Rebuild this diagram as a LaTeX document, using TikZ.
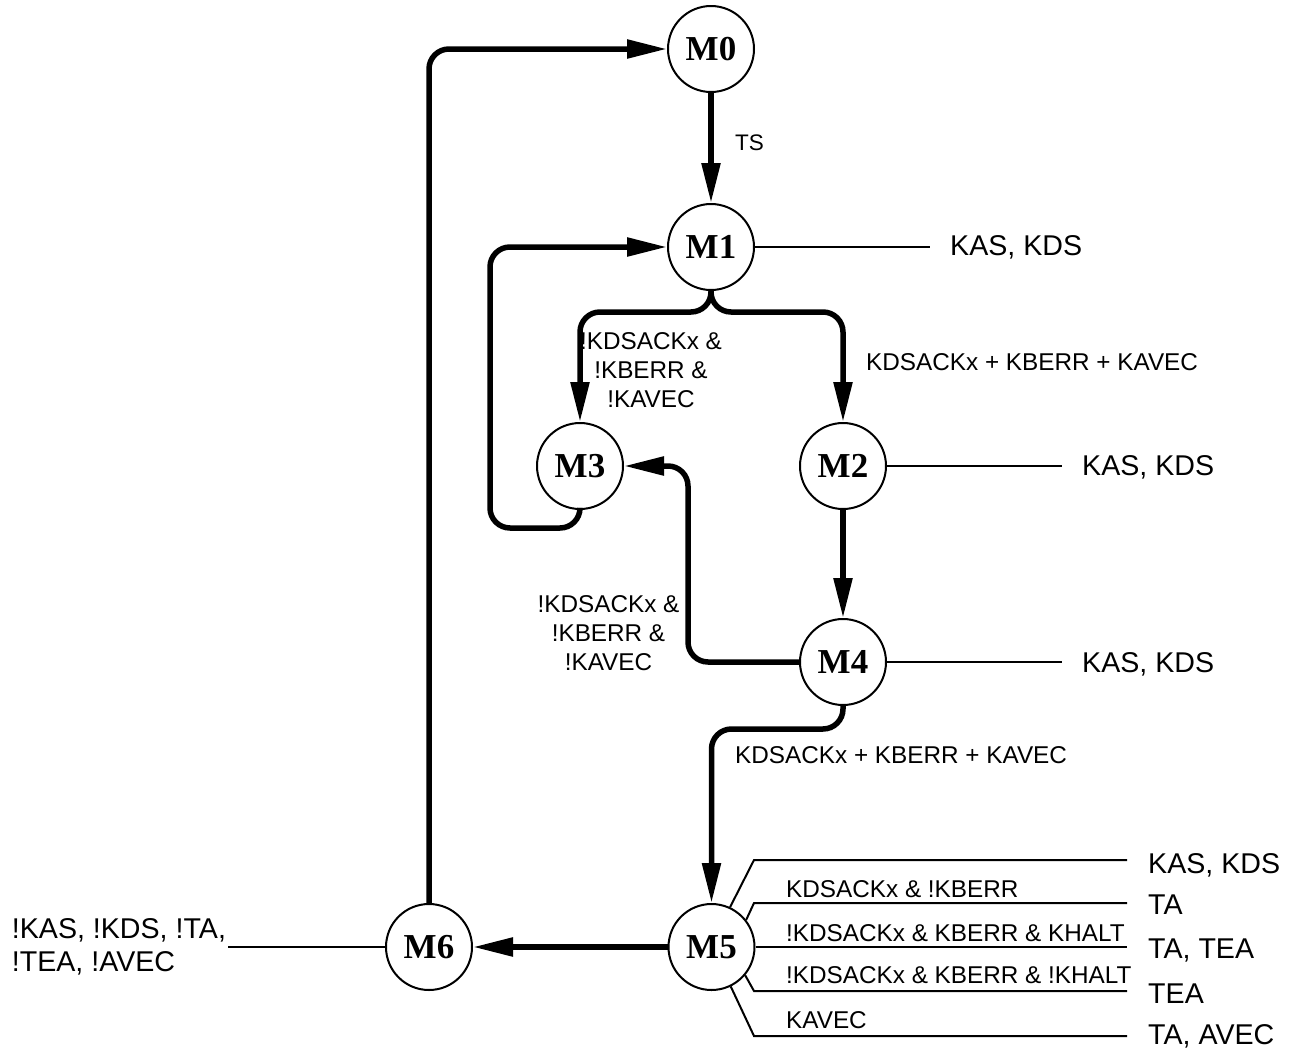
\documentclass[tikz,border=0pt]{standalone}
\usepackage{fontspec}
\setmainfont{Liberation Sans}
\newfontfamily\nodefont{Liberation Serif}
\usetikzlibrary{arrows.meta}
\begin{document}
\begin{tikzpicture}[x=1pt,y=-1pt,
  state/.style={circle,draw,line width=2pt,inner sep=0pt,minimum size=86pt,font=\nodefont\bfseries\fontsize{35}{35}\selectfont},
  trans/.style={line width=5.5pt,-{Triangle[length=40pt,width=18pt]},rounded corners=20pt},
  outln/.style={line width=2pt},
  lab/.style={font=\fontsize{24.3}{29}\selectfont,inner sep=0pt},
  outlab/.style={font=\fontsize{28.6}{33}\selectfont,inner sep=0pt,anchor=base west},
]
\useasboundingbox (0,0) rectangle (1294,1050);
% states
\node[state] (M0) at (711,49) {M0};
\node[state] (M1) at (711,247) {M1};
\node[state] (M3) at (580,466) {M3};
\node[state] (M2) at (843,466) {M2};
\node[state] (M4) at (843,662) {M4};
\node[state] (M5) at (711.5,947) {M5};
\node[state] (M6) at (429,947) {M6};
% transitions
\draw[trans] (M0.south) -- (M1.north);
\draw[trans] (M1.south) -- (711,312) -- (580,312) -- (M3.north);
\draw[trans] (M1.south) -- (711,312) -- (843,312) -- (M2.north);
\draw[trans] (M3.south) -- (580,528) -- (490,528) -- (490,247) -- (M1.west);
\draw[trans] (M2.south) -- (M4.north);
\draw[trans] (M4.west) -- (688,662) -- (688,466) -- (M3.east);
\draw[trans] (M4.south) -- (843,729) -- (711.5,729) -- (M5.north);
\draw[trans] (M5.west) -- (M6.east);
\draw[trans] (M6.north) -- (429,49) -- (M0.west);
% output lines
\coordinate (e1) at (930,247);
\coordinate (e2) at (1062,466);
\coordinate (e4) at (1062,662);
\coordinate (e6) at (228,947);
\draw[outln] (M1.east) -- (e1);
\draw[outln] (M2.east) -- (e2);
\draw[outln] (M4.east) -- (e4);
\draw[outln] (M6.west) -- (e6);
\draw[outln] (M5.65) -- (754,860) -- (1127,860);
\draw[outln] (M5.38) -- (754,903) -- (1127,903);
\draw[outln] (M5.east) -- (1127,947);
\draw[outln] (M5.-40) -- (754,991) -- (1127,991);
\draw[outln] (M5.-64) -- (754,1036) -- (1127,1036);
% transition labels
\node[lab,anchor=base west,font=\fontsize{22.5}{29}\selectfont] (lts) at (735,150) {TS};
\node[lab,anchor=base west] (l12) at (866,370) {KDSACKx + KBERR + KAVEC};
\node[lab,align=center] (l13) at (651,370) {!KDSACKx \&\\!KBERR \&\\!KAVEC};
\node[lab,align=center] (l43) at (608.5,633) {!KDSACKx \&\\!KBERR \&\\!KAVEC};
\node[lab,anchor=base west] (l45) at (735,763.5) {KDSACKx + KBERR + KAVEC};
\node[lab,anchor=base west] (m1) at (786,897.3) {KDSACKx \& !KBERR};
\node[lab,anchor=base west] (m2) at (786,941) {!KDSACKx \& KBERR \& KHALT};
\node[lab,anchor=base west] (m3) at (786,983.3) {!KDSACKx \& KBERR \& !KHALT};
\node[lab,anchor=base west] (m4) at (786,1028.3) {KAVEC};
% output labels
\node[outlab] (o1) at (950,255) {KAS, KDS};
\node[outlab] (o2) at (1082,475.5) {KAS, KDS};
\node[outlab] (o4) at (1082,672.5) {KAS, KDS};
\node[outlab] (p1) at (1148,873) {KAS, KDS};
\node[outlab] (p2) at (1148,914) {TA};
\node[outlab] (p3) at (1148,958.3) {TA, TEA};
\node[outlab] (p4) at (1148,1003.3) {TEA};
\node[outlab] (p5) at (1148,1044) {TA, AVEC};
\node[font=\fontsize{28.6}{33}\selectfont,inner sep=0pt,align=left,anchor=west] (o6) at (11.7,946.5) {!KAS, !KDS, !TA,\\!TEA, !AVEC};
\end{tikzpicture}
\end{document}
